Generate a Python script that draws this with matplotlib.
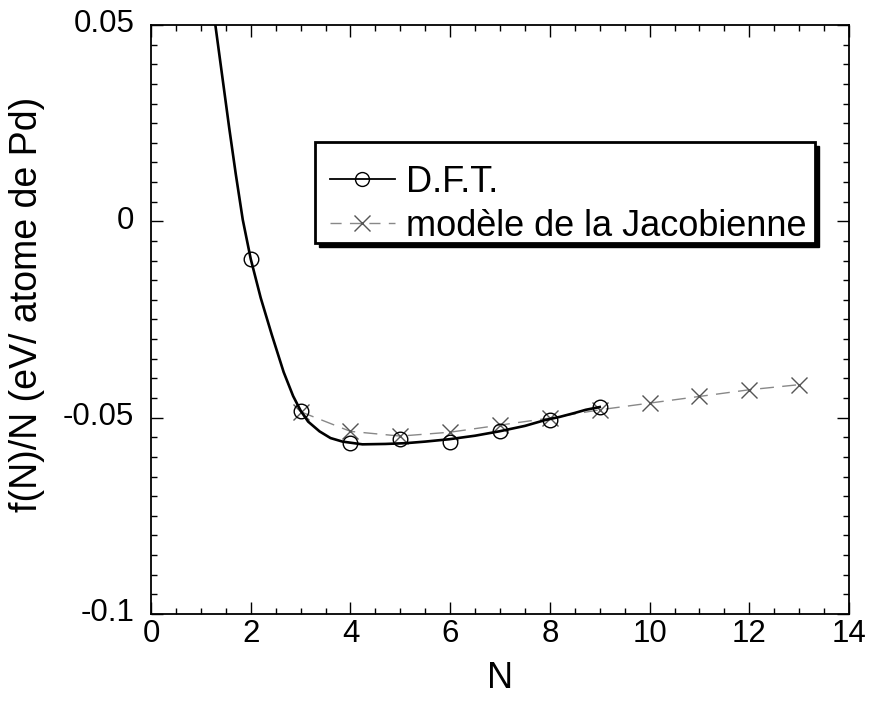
import matplotlib
matplotlib.use('Agg')
from matplotlib import pyplot as plt
from matplotlib.lines import Line2D
from matplotlib.patches import Rectangle
from matplotlib.ticker import MultipleLocator
from matplotlib.transforms import ScaledTranslation

plt.rcParams['font.family'] = ['Liberation Sans', 'DejaVu Sans']

# points DFT (cercles)
dft_n = [2, 3, 4, 5, 6, 7, 8, 9]
dft_y = [-0.0096, -0.0482, -0.0565, -0.0554, -0.0563, -0.0535, -0.0506, -0.0473]

# courbe ajustee
fit_n = [1.29, 1.43, 1.57, 1.70, 1.84, 2.0, 2.2, 2.42, 2.66, 2.85, 3.0, 3.15,
         3.38, 3.6, 3.84, 4.24, 4.7, 5.11, 5.5, 5.98, 6.5, 6.98, 7.5, 7.91,
         8.2, 8.5, 8.72, 9.0]
fit_y = [0.050, 0.0368, 0.0236, 0.0120, 0.0004, -0.0096, -0.0195, -0.0288,
         -0.0384, -0.0445, -0.0482, -0.0510, -0.0535, -0.0552, -0.0561,
         -0.0568, -0.0567, -0.0565, -0.0561, -0.0555, -0.0546, -0.0535,
         -0.0521, -0.0506, -0.0498, -0.0488, -0.0480, -0.0473]

# modele de la Jacobienne (croix)
jac_n = [3, 4, 5, 6, 7, 8, 9, 10, 11, 12, 13]
jac_y = [-0.0485, -0.0535, -0.0547, -0.0537, -0.0519, -0.0501, -0.0480,
         -0.0463, -0.0446, -0.0429, -0.0416]

xticks = [0, 2, 4, 6, 8, 10, 12, 14]
yticks = [-0.1, -0.05, 0, 0.05]
ytick_labels = ['-0.1', '-0.05', '0', '0.05']

fig = plt.figure(figsize=(8.69, 7.02), dpi=100)
ax = fig.add_axes([0.1738, 0.1254, 0.8032, 0.839])

ax.plot(jac_n, jac_y, color='#888888', lw=1, dashes=(10, 6), zorder=2)
ax.plot(jac_n, jac_y, ls='none', marker='x', ms=11, mew=1, color='#555555', zorder=3)
ax.plot(fit_n, fit_y, color='black', lw=1.9, zorder=4)
ax.plot(dft_n, dft_y, ls='none', marker='o', ms=10.5, mfc='none', mec='black', mew=1, zorder=5)

ax.set_xlim(0, 14)
ax.set_ylim(-0.1, 0.05)
ax.xaxis.set_minor_locator(MultipleLocator(0.5))
ax.yaxis.set_minor_locator(MultipleLocator(0.005))
ax.set_xticks(xticks)
ax.set_xticklabels([str(t) for t in xticks])
ax.set_yticks(yticks)
ax.set_yticklabels(ytick_labels)
ax.tick_params(axis='both', which='major', direction='in', length=8.5, width=1,
               top=True, right=True, labelsize=22.5)
ax.tick_params(axis='both', which='minor', direction='in', length=4, width=1,
               top=True, right=True)
ax.tick_params(axis='x', which='major', pad=3.5)
ax.tick_params(axis='y', which='major', pad=12)
for lab in ax.get_yticklabels():
    lab.set_transform(lab.get_transform() + ScaledTranslation(0, 3 / 72, fig.dpi_scale_trans))
for s in ax.spines.values():
    s.set_linewidth(1.3)

ax.set_xlabel('N', fontsize=26)
ax.xaxis.set_label_coords(0.5, -0.08)
ax.set_ylabel('f(N)/N (eV/ atome de Pd)', fontsize=27)
ax.yaxis.set_label_coords(-0.152, 0.525)

# cadre de la legende avec ombre
ax.add_patch(Rectangle((0.2407, 0.6231), 0.7163, 0.1715, transform=ax.transAxes,
                       facecolor='black', edgecolor='black', zorder=6))
ax.add_patch(Rectangle((0.2350, 0.6299), 0.7163, 0.1715, transform=ax.transAxes,
                       facecolor='white', edgecolor='black', lw=2, zorder=7))

handles = [
    Line2D([], [], color='black', lw=1.3, marker='o', ms=10, mfc='none', mec='black', mew=1),
    Line2D([], [], color='#888888', lw=1, dashes=(8, 6), marker='x', ms=11, mew=1, mec='#555555'),
]
leg = ax.legend(handles, ['D.F.T.', 'modèle de la Jacobienne'], loc='upper left',
                bbox_to_anchor=(0.2564, 0.7623), borderaxespad=0, borderpad=0,
                fontsize=26, frameon=False, handlelength=1.8, handletextpad=0.3,
                labelspacing=0.25)
leg.set_zorder(8)

fig.savefig('out.png', dpi=100)
